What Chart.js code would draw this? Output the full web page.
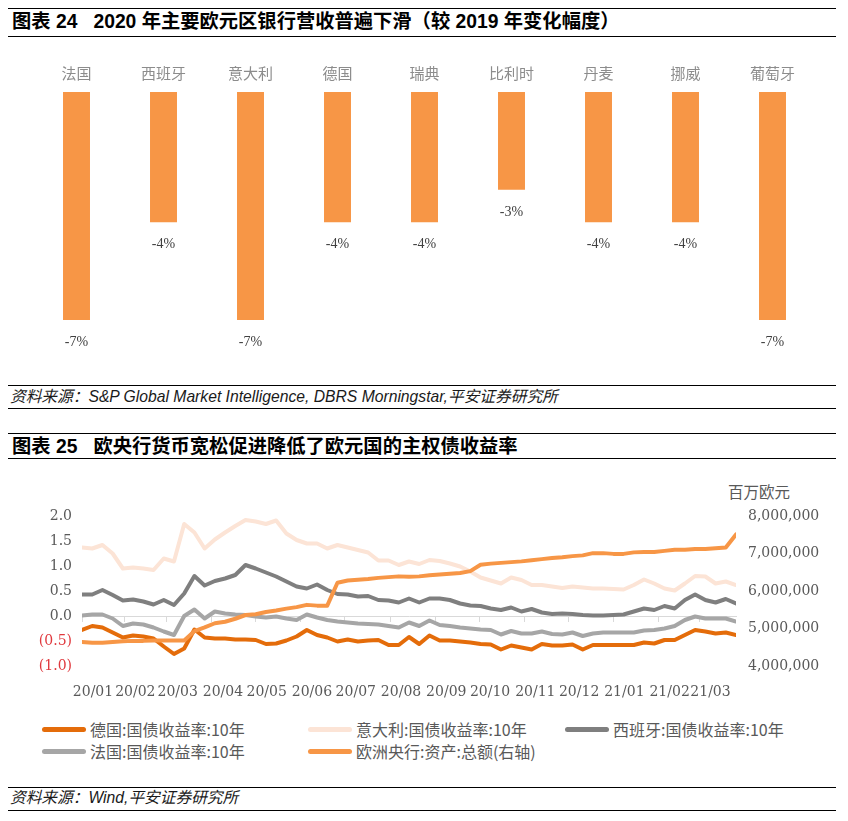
<!DOCTYPE html>
<html>
<head>
<meta charset="utf-8">
<script src="https://cdn.jsdelivr.net/npm/chart.js@4.4.1/dist/chart.umd.min.js"></script>
<style>
html,body{margin:0;padding:0;background:#fff;}
#page{position:relative;width:848px;height:821px;overflow:hidden;background:#fff;font-family:"Liberation Sans","Noto Sans CJK SC",sans-serif;}
.rule{position:absolute;left:8px;width:828px;height:0;border-top:1px solid #000;}
.title{position:absolute;left:12px;font-weight:bold;font-size:19.3px;color:#000;white-space:pre;line-height:20px;height:20px;}
.source{position:absolute;left:10px;font-style:italic;font-size:15.7px;color:#1a1a1a;white-space:pre;line-height:18px;height:18px;}
.box{position:absolute;left:0;width:848px;}
#unit{position:absolute;left:728px;top:481px;font-family:"Noto Sans CJK SC",sans-serif;font-size:15.5px;color:#595959;line-height:20px;}
.lg{position:absolute;height:20px;line-height:20px;font-family:"Noto Sans CJK SC",sans-serif;font-size:16px;color:#595959;white-space:pre;}
.lg i{position:absolute;left:0;top:7.5px;width:44px;height:5px;border-radius:3px;}
.lg span{position:absolute;left:48px;top:0;}
</style>
</head>
<body>
<div id="page">
  <div class="rule" style="top:8px"></div>
  <div class="title" style="top:12px">图表 24   2020 年主要欧元区银行营收普遍下滑（较 2019 年变化幅度）</div>
  <div class="rule" style="top:36px"></div>
  <div class="box" style="top:40px;height:340px"><canvas id="bar"></canvas></div>
  <div class="rule" style="top:385px"></div>
  <div class="source" style="top:388px">资料来源：S&amp;P Global Market Intelligence, DBRS Morningstar,平安证券研究所</div>
  <div class="rule" style="top:408px"></div>
  <div class="rule" style="top:433px"></div>
  <div class="title" style="top:437px">图表 25   欧央行货币宽松促进降低了欧元国的主权债收益率</div>
  <div class="rule" style="top:458px"></div>
  <div id="unit">百万欧元</div>
  <div class="box" style="top:470px;height:235px"><canvas id="line"></canvas></div>
  <div id="legend"></div>
  <div class="rule" style="top:787px"></div>
  <div class="source" style="top:789px">资料来源：Wind,平安证券研究所</div>
  <div class="rule" style="top:810px"></div>
</div>
<script>
// ---------- Chart 24 data ----------
const barCategories = ['法国','西班牙','意大利','德国','瑞典','比利时','丹麦','挪威','葡萄牙'];
const barValues = [-7, -4, -7, -4, -4, -3, -4, -4, -7];

// ---------- Chart 25 data (weekly, Fridays) ----------
const weekDates = [
 '2020-01-03','2020-01-10','2020-01-17','2020-01-24','2020-01-31',
 '2020-02-07','2020-02-14','2020-02-21','2020-02-28',
 '2020-03-06','2020-03-13','2020-03-20','2020-03-27',
 '2020-04-03','2020-04-10','2020-04-17','2020-04-24',
 '2020-05-01','2020-05-08','2020-05-15','2020-05-22','2020-05-29',
 '2020-06-05','2020-06-12','2020-06-19','2020-06-26',
 '2020-07-03','2020-07-10','2020-07-17','2020-07-24','2020-07-31',
 '2020-08-07','2020-08-14','2020-08-21','2020-08-28',
 '2020-09-04','2020-09-11','2020-09-18','2020-09-25',
 '2020-10-02','2020-10-09','2020-10-16','2020-10-23','2020-10-30',
 '2020-11-06','2020-11-13','2020-11-20','2020-11-27',
 '2020-12-04','2020-12-11','2020-12-18','2020-12-25',
 '2021-01-01','2021-01-08','2021-01-15','2021-01-22','2021-01-29',
 '2021-02-05','2021-02-12','2021-02-19','2021-02-26',
 '2021-03-05','2021-03-12','2021-03-19','2021-03-26'
];
const monthStarts = ['2020-01-03','2020-02-01','2020-03-01','2020-04-01','2020-05-01','2020-06-01','2020-07-01','2020-08-01','2020-09-01','2020-10-01','2020-11-01','2020-12-01','2021-01-01','2021-02-01','2021-03-01'];
const monthLabels = ['20/01','20/02','20/03','20/04','20/05','20/06','20/07','20/08','20/09','20/10','20/11','20/12','21/01','21/02','21/03'];

const germany = [-0.28,-0.20,-0.23,-0.33,-0.43,-0.39,-0.41,-0.45,-0.61,-0.76,
 -0.65,-0.27,-0.43,-0.45,-0.45,-0.47,-0.47,-0.48,-0.56,-0.55,
 -0.49,-0.41,-0.28,-0.38,-0.43,-0.51,-0.47,-0.51,-0.49,-0.48,
 -0.58,-0.58,-0.42,-0.56,-0.39,-0.49,-0.49,-0.51,-0.53,-0.56,
 -0.57,-0.67,-0.59,-0.63,-0.67,-0.56,-0.59,-0.59,-0.57,-0.67,
 -0.58,-0.58,-0.58,-0.58,-0.58,-0.53,-0.55,-0.48,-0.48,-0.38,
 -0.28,-0.31,-0.35,-0.33,-0.38];
const italy = [1.37,1.35,1.42,1.25,0.95,0.97,0.95,0.92,1.15,1.09,
 1.84,1.67,1.35,1.53,1.67,1.80,1.92,1.89,1.84,1.91,
 1.65,1.52,1.45,1.45,1.35,1.42,1.37,1.32,1.27,1.11,
 1.11,1.02,1.09,1.04,1.12,1.10,1.05,0.99,0.89,0.77,
 0.71,0.65,0.77,0.72,0.62,0.62,0.59,0.56,0.59,0.57,
 0.55,0.55,0.54,0.53,0.62,0.73,0.65,0.55,0.51,0.65,
 0.80,0.79,0.65,0.69,0.62];
const spain = [0.43,0.43,0.52,0.42,0.31,0.33,0.29,0.23,0.32,0.22,
 0.45,0.80,0.61,0.70,0.75,0.82,1.02,0.95,0.87,0.79,
 0.69,0.59,0.55,0.63,0.52,0.44,0.43,0.39,0.40,0.32,
 0.31,0.27,0.35,0.27,0.35,0.35,0.32,0.25,0.21,0.20,
 0.15,0.12,0.17,0.09,0.14,0.07,0.04,0.05,0.04,0.02,
 0.01,0.01,0.02,0.03,0.09,0.15,0.12,0.20,0.15,0.32,
 0.43,0.32,0.27,0.34,0.25];
const france = [0.01,0.03,0.03,-0.05,-0.20,-0.15,-0.17,-0.23,-0.31,-0.38,
 0.00,0.13,-0.05,0.09,0.05,0.03,0.02,-0.01,-0.03,-0.01,
 -0.05,-0.08,0.03,-0.03,-0.08,-0.11,-0.13,-0.15,-0.16,-0.17,
 -0.20,-0.23,-0.13,-0.20,-0.09,-0.18,-0.20,-0.23,-0.25,-0.27,
 -0.28,-0.37,-0.30,-0.35,-0.35,-0.31,-0.36,-0.37,-0.33,-0.40,
 -0.35,-0.33,-0.33,-0.33,-0.33,-0.29,-0.28,-0.25,-0.20,-0.08,
 -0.01,-0.05,-0.05,-0.05,-0.11];
const ecbAssets = [4640000,4620000,4620000,4640000,4660000,4670000,4670000,4680000,4680000,4680000,
 4680000,4930000,5030000,5140000,5180000,5260000,5360000,5380000,5440000,5480000,
 5530000,5570000,5630000,5610000,5610000,6220000,6280000,6300000,6320000,6350000,
 6370000,6390000,6380000,6390000,6420000,6440000,6460000,6480000,6530000,6700000,
 6730000,6750000,6770000,6790000,6820000,6850000,6880000,6900000,6930000,6950000,
 7010000,7010000,6990000,6990000,7030000,7040000,7040000,7070000,7100000,7100000,
 7120000,7120000,7140000,7160000,7510000];
const seriesNames = ['德国:国债收益率:10年','意大利:国债收益率:10年','西班牙:国债收益率:10年','法国:国债收益率:10年','欧洲央行:资产:总额(右轴)'];
const seriesColors = ['#E46C0A','#FCE4D6','#7F7F7F','#A6A6A6','#F79646'];

// ---------- helpers ----------
const DAY0 = Date.parse('2020-01-01T00:00:00Z');
const dayOf = s => (Date.parse(s + 'T00:00:00Z') - DAY0) / 864e5;
const xMin = dayOf(weekDates[0]);
const xMax = dayOf(weekDates[weekDates.length - 1]);
const monthTicks = monthStarts.map(dayOf);
const pts = arr => weekDates.map((d, i) => ({x: dayOf(d), y: arr[i]}));

Chart.defaults.font.family = 'DejaVu Serif';
Chart.defaults.color = '#595959';

// ---------- Chart 24 ----------
const barLabelPlugin = {
  id: 'barLabels',
  afterDatasetsDraw(chart) {
    const ctx = chart.ctx;
    const meta = chart.getDatasetMeta(0);
    ctx.save();
    ctx.font = '14px "Liberation Serif"';
    ctx.fillStyle = '#404040';
    ctx.textAlign = 'center';
    ctx.textBaseline = 'middle';
    meta.data.forEach((bar, i) => {
      ctx.fillText(chart.data.datasets[0].data[i] + '%', bar.x, bar.y + 22.5);
    });
    ctx.restore();
  }
};
new Chart(document.getElementById('bar'), {
  type: 'bar',
  data: {
    labels: barCategories,
    datasets: [{data: barValues, backgroundColor: '#F79646', barPercentage: 0.31, categoryPercentage: 1}]
  },
  options: {
    responsive: true, maintainAspectRatio: false, animation: false,
    layout: {padding: {left: 33, right: 32, top: 0, bottom: 27.4}},
    plugins: {legend: {display: false}, tooltip: {enabled: false}},
    scales: {
      x: {
        position: 'top',
        grid: {display: false, drawTicks: false}, border: {display: false},
        ticks: {padding: 10, color: '#8c8c8c', font: {family: '"Noto Sans CJK SC"', size: 15}},
        afterFit: s => { s.height = 52; }
      },
      y: {display: false, min: -8, max: 0}
    }
  },
  plugins: [barLabelPlugin]
});

// ---------- Chart 25 ----------
const seriesData = [germany, italy, spain, france, ecbAssets];
const lineChart = new Chart(document.getElementById('line'), {
  type: 'line',
  data: {
    datasets: seriesData.map((arr, i) => ({
      label: seriesNames[i],
      data: pts(arr),
      borderColor: seriesColors[i],
      backgroundColor: seriesColors[i],
      yAxisID: i === 4 ? 'y1' : 'y',
      order: 10 - i
    }))
  },
  options: {
    responsive: true, maintainAspectRatio: false, animation: false,
    layout: {padding: {top: 46, left: 0, right: 0, bottom: 0}},
    plugins: {legend: {display: false}, tooltip: {enabled: false}},
    elements: {
      point: {radius: 0},
      line: {borderWidth: 4, tension: 0, borderJoinStyle: 'round', borderCapStyle: 'round'}
    },
    scales: {
      x: {
        type: 'linear', min: xMin, max: xMax, position: 'bottom',
        grid: {display: false, drawTicks: false}, border: {display: false},
        afterBuildTicks: s => { s.ticks = monthTicks.map(v => ({value: v})); },
        ticks: {autoSkip: false, maxRotation: 0, minRotation: 0, padding: 18, labelOffset: 11,
                color: '#595959', font: {size: 14}, callback: (v, i) => monthLabels[i]},
        afterFit: s => { s.height = 39; }
      },
      x2: {
        type: 'linear', axis: 'x', min: xMin, max: xMax, position: {y: 0},
        grid: {drawOnChartArea: false, drawTicks: true, tickLength: 5, color: '#d9d9d9'},
        border: {display: true, color: '#d9d9d9'},
        afterBuildTicks: s => { s.ticks = monthTicks.map(v => ({value: v})); },
        ticks: {display: false}
      },
      y: {
        position: 'left', min: -1, max: 2,
        grid: {display: false, drawTicks: false}, border: {display: false},
        ticks: {stepSize: 0.5, padding: 10, font: {size: 14},
                color: c => c.tick.value < 0 ? '#E0393E' : '#595959',
                callback: v => v < 0 ? '(' + Math.abs(v).toFixed(1) + ')' : v.toFixed(1)},
        afterFit: s => { s.width = 82; }
      },
      y1: {
        position: 'right', min: 4000000, max: 8000000,
        grid: {display: false, drawTicks: false}, border: {display: false},
        ticks: {stepSize: 1000000, padding: 12, font: {size: 14}, color: '#595959',
                callback: v => v.toLocaleString('en-US')},
        afterFit: s => { s.width = 112; }
      }
    }
  }
});

// ---------- HTML legend built from the chart's datasets ----------
const legendEl = document.getElementById('legend');
const colX = [42, 308, 565];
lineChart.data.datasets.forEach((ds, i) => {
  const item = document.createElement('div');
  item.className = 'lg';
  item.style.left = colX[i % 3] + 'px';
  item.style.top = (719 + 22 * Math.floor(i / 3)) + 'px';
  const sw = document.createElement('i');
  sw.style.background = ds.borderColor;
  const tx = document.createElement('span');
  tx.textContent = ds.label;
  item.appendChild(sw); item.appendChild(tx);
  legendEl.appendChild(item);
});
</script>
</body>
</html>
